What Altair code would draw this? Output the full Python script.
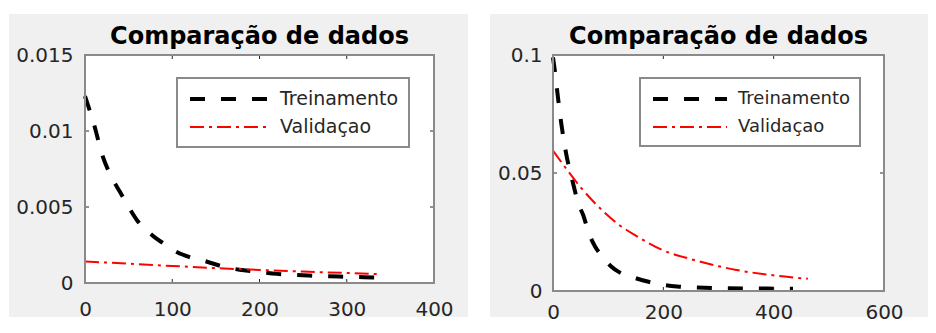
import altair as alt
import pandas as pd

SERIES = ["Treinamento", "Validaçao"]
TITLE = "Comparação de dados"

# ---- left panel ----
left_train_x = [0, 10, 20, 30, 40, 50, 60, 70, 80, 90, 100, 120, 140, 160, 180, 200, 220, 240, 260, 280, 300, 320, 340]
left_train_y = [0.0123, 0.0105, 0.0084, 0.0070, 0.0060, 0.0050, 0.0041, 0.0035, 0.0030, 0.0026, 0.0022, 0.0017,
                0.0014, 0.00105, 0.00085, 0.00072, 0.00060, 0.00053, 0.00048, 0.00044, 0.00041, 0.00038, 0.00035]
left_val_x = [0, 50, 100, 150, 200, 250, 300, 340]
left_val_y = [0.00142, 0.00127, 0.00112, 0.00098, 0.00086, 0.00075, 0.00066, 0.00058]
left_xticks = [0, 100, 200, 300, 400]
left_yticks = [0, 0.005, 0.01, 0.015]

# ---- right panel ----
right_train_x = [0, 3, 9, 15, 24, 36, 46, 55, 65, 76, 90, 105, 120, 145, 175, 200, 225, 260, 300, 350, 400, 435]
right_train_y = [0.099, 0.094, 0.082, 0.071, 0.058, 0.046, 0.037, 0.032, 0.0245, 0.019, 0.0145, 0.0105, 0.008,
                 0.0058, 0.0038, 0.0026, 0.0019, 0.0015, 0.0012, 0.0011, 0.0010, 0.0010]
right_val_x = [0, 25, 50, 90, 120, 150, 200, 250, 300, 330, 380, 420, 462]
right_val_y = [0.0595, 0.0515, 0.044, 0.034, 0.028, 0.0235, 0.0172, 0.0135, 0.0105, 0.0090, 0.0072, 0.0061, 0.0052]
right_xticks = [0, 200, 400, 600]
right_yticks = [0, 0.05, 0.1]

FONT = "DejaVu Sans"
PANEL_BG = "#f0f0f0"
FRAME = "#8a8a8a"
TEXT = "#262626"
PLAIN_NUMBER = "'' + datum.value"


def panel(tx, ty, vx, vy, xticks, yticks, W, H, bg, xlab_pad, ylab_pad, legend, title_offset):
    lines = pd.concat([
        pd.DataFrame({"x": tx, "y": ty, "serie": SERIES[0]}),
        pd.DataFrame({"x": vx, "y": vy, "serie": SERIES[1]}),
    ], ignore_index=True)
    xscale = alt.Scale(domain=[xticks[0], xticks[-1]], nice=False, zero=False)
    yscale = alt.Scale(domain=[yticks[0], yticks[-1]], nice=False, zero=False)
    xaxis = alt.Axis(values=xticks, labelPadding=xlab_pad, labelExpr=PLAIN_NUMBER, title=None,
                     labelFlush=False, zindex=2)
    yaxis = alt.Axis(values=yticks, labelPadding=ylab_pad, labelExpr=PLAIN_NUMBER, title=None,
                     labelFlush=False, zindex=2)
    one = pd.DataFrame({"k": [0]})

    back = alt.Chart(one).mark_rect(color=PANEL_BG).encode(
        x=alt.value(bg[0]), x2=alt.value(bg[1]), y=alt.value(bg[2]), y2=alt.value(bg[3]))
    plot_area = alt.Chart(one).mark_rect(color="white").encode(
        x=alt.value(0), x2=alt.value("width"), y=alt.value(0), y2=alt.value("height"))

    line = alt.Chart(lines).mark_line(interpolate="monotone").encode(
        x=alt.X("x:Q", scale=xscale, axis=xaxis),
        y=alt.Y("y:Q", scale=yscale, axis=yaxis),
        color=alt.Color("serie:N", scale=alt.Scale(domain=SERIES, range=["black", "#ff0000"]), legend=legend),
        strokeDash=alt.StrokeDash("serie:N", scale=alt.Scale(domain=SERIES, range=[[15, 16], [14, 5, 3, 5]]),
                                  legend=legend),
        strokeWidth=alt.StrokeWidth("serie:N", scale=alt.Scale(domain=SERIES, range=[4, 2]), legend=legend),
    )

    xt = alt.Chart(pd.DataFrame({"x": xticks}))
    yt = alt.Chart(pd.DataFrame({"y": yticks}))
    tick_style = dict(color=TEXT, strokeWidth=1)
    bottom_ticks = xt.mark_rule(**tick_style).encode(
        x=alt.X("x:Q", scale=xscale, axis=xaxis), y=alt.value(H - 4), y2=alt.value(H))
    top_ticks = xt.mark_rule(**tick_style).encode(
        x=alt.X("x:Q", scale=xscale, axis=xaxis), y=alt.value(0), y2=alt.value(4))
    left_ticks = yt.mark_rule(**tick_style).encode(
        y=alt.Y("y:Q", scale=yscale, axis=yaxis), x=alt.value(0), x2=alt.value(4))
    right_ticks = yt.mark_rule(**tick_style).encode(
        y=alt.Y("y:Q", scale=yscale, axis=yaxis), x=alt.value(W - 4), x2=alt.value(W))

    frame = alt.Chart(one).mark_rect(filled=False, stroke=FRAME, strokeWidth=2).encode(
        x=alt.value(0), x2=alt.value("width"), y=alt.value(0), y2=alt.value("height"))

    return alt.layer(back, plot_area, line, bottom_ticks, top_ticks, left_ticks, right_ticks, frame).properties(
        width=W, height=H,
        title=alt.Title(TITLE, font=FONT, fontSize=24, fontWeight="bold", color="black",
                        anchor="middle", offset=title_offset),
    )


left_legend = alt.Legend(title=None, orient="none", legendX=92, legendY=23,
                         symbolType="M-4.39,0L4.39,0", symbolSize=324, symbolOffset=31.5, labelOffset=39.5,
                         labelFont=FONT, labelFontSize=19, labelColor=TEXT, padding=10, rowPadding=8,
                         fillColor="white", strokeColor=FRAME)
right_legend = alt.Legend(title=None, orient="none", legendX=87, legendY=23,
                          symbolType="M-4.11,0L4.11,0", symbolSize=324, symbolOffset=29, labelOffset=37,
                          labelFont=FONT, labelFontSize=18, labelColor=TEXT, padding=10, rowPadding=9,
                          fillColor="white", strokeColor=FRAME)

left = panel(left_train_x, left_train_y, left_val_x, left_val_y, left_xticks, left_yticks,
             349, 228, (-76, 383, -41, 262), 16, 12, left_legend, -35)
right = panel(right_train_x, right_train_y, right_val_x, right_val_y, right_xticks, right_yticks,
              331, 236, (-63, 375, -41, 262), 11, 11, right_legend, -35)

chart = alt.hconcat(left, right, spacing=22).resolve_legend(
    color="independent", strokeDash="independent", strokeWidth="independent"
).properties(
    padding={"left": 1, "top": 6, "right": 0, "bottom": 0}
).configure_view(
    strokeWidth=0
).configure_axis(
    domain=False, ticks=False, grid=False, labelFont=FONT, labelFontSize=20, labelColor=TEXT
).configure_legend(
    strokeWidth=2
)

chart.save("out.html", embed_options={"renderer": "svg", "actions": False})
